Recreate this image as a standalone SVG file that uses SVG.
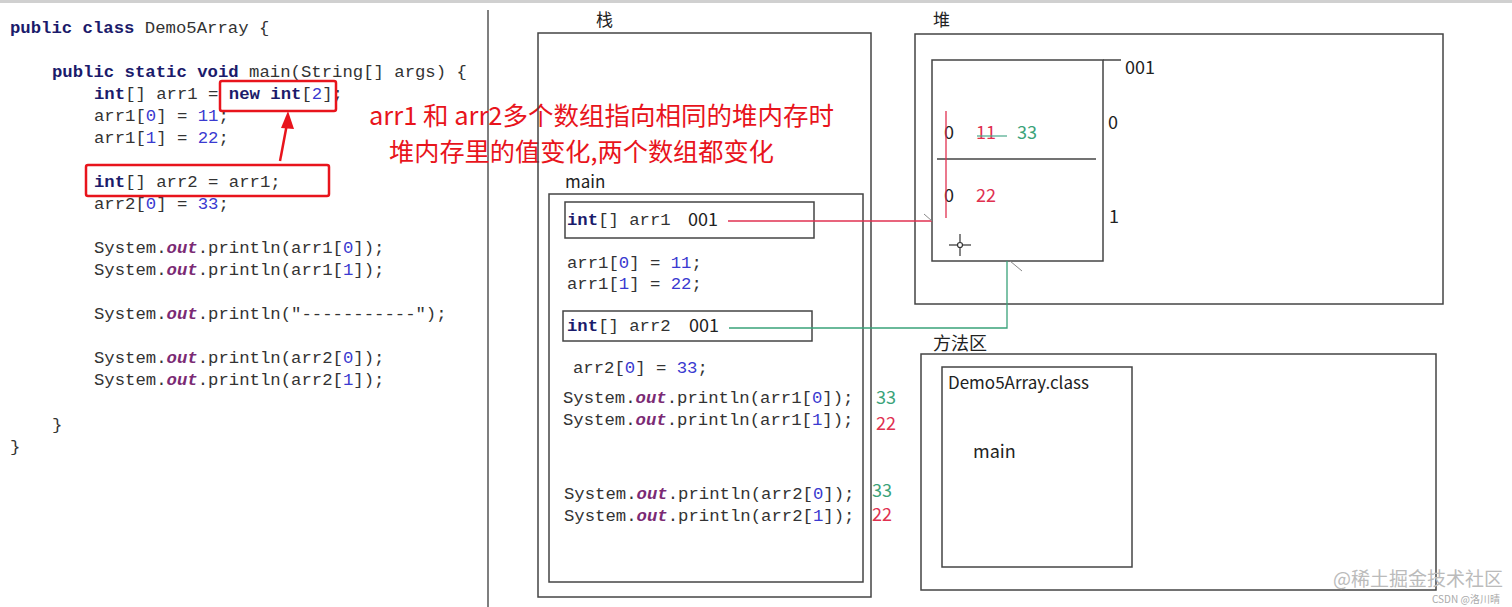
<svg xmlns="http://www.w3.org/2000/svg" width="1512" height="607" viewBox="0 0 1512 607">
<style>
.code{font-family:"Liberation Mono",monospace;font-size:17.3px;fill:#333}
.kw{font-weight:bold;fill:#1b1b6b}
.num{fill:#3a3ad0}
.out{font-style:italic;font-weight:bold;fill:#7b2a74}
.sans{font-family:"Noto Sans CJK SC","Noto Sans",sans-serif;fill:#222}
.box{fill:none;stroke:#444;stroke-width:1.5}
.redbox{fill:none;stroke:#e8141c;stroke-width:2.5}
.note{font-family:"Noto Sans CJK SC",sans-serif;fill:#e8141c}
.green{fill:#3aa37a}
.red{fill:#e03050}
</style>
<rect x="0" y="0" width="1512" height="607" fill="#ffffff"/>
<rect x="0" y="0" width="1512" height="3" fill="#d0d0d0"/>
<line x1="488" y1="10" x2="488" y2="607" stroke="#555" stroke-width="1.5"/>

<g id="source-code">
<text class="code" x="10" y="33"><tspan class="kw">public</tspan> <tspan class="kw">class</tspan> Demo5Array {</text>
<text class="code" x="52" y="77"><tspan class="kw">public</tspan> <tspan class="kw">static</tspan> <tspan class="kw">void</tspan> main(String[] args) {</text>
<text class="code" x="94" y="99"><tspan class="kw">int</tspan>[] arr1 = <tspan class="kw">new</tspan> <tspan class="kw">int</tspan>[<tspan class="num">2</tspan>];</text>
<text class="code" x="94" y="121">arr1[<tspan class="num">0</tspan>] = <tspan class="num">11</tspan>;</text>
<text class="code" x="94" y="143">arr1[<tspan class="num">1</tspan>] = <tspan class="num">22</tspan>;</text>
<text class="code" x="94" y="187"><tspan class="kw">int</tspan>[] arr2 = arr1;</text>
<text class="code" x="94" y="209">arr2[<tspan class="num">0</tspan>] = <tspan class="num">33</tspan>;</text>
<text class="code" x="94" y="253">System.<tspan class="out">out</tspan>.println(arr1[<tspan class="num">0</tspan>]);</text>
<text class="code" x="94" y="275">System.<tspan class="out">out</tspan>.println(arr1[<tspan class="num">1</tspan>]);</text>
<text class="code" x="94" y="319">System.<tspan class="out">out</tspan>.println("-----------");</text>
<text class="code" x="94" y="363">System.<tspan class="out">out</tspan>.println(arr2[<tspan class="num">0</tspan>]);</text>
<text class="code" x="94" y="385">System.<tspan class="out">out</tspan>.println(arr2[<tspan class="num">1</tspan>]);</text>
<text class="code" x="52" y="430">}</text>
<text class="code" x="10" y="452">}</text>
</g>

<g id="highlight-new">
<rect class="redbox" x="220" y="81" width="116" height="30" rx="2"/>
</g>
<g id="highlight-arr2">
<rect class="redbox" x="86" y="165" width="243" height="31" rx="2"/>
</g>

<g id="annotation">
<text class="note" x="369" y="125" font-size="25.5">arr1 和 arr2多个数组指向相同的堆内存时</text>
<text class="note" x="389" y="161" font-size="25.2">堆内存里的值变化,两个数组都变化</text>
</g>

<g id="stack">
<text class="sans" x="596" y="26" font-size="17">栈</text>
<rect class="box" x="538" y="33" width="333" height="564"/>
</g>

<g id="main-frame">
<text class="sans" x="565" y="188" font-size="17">main</text>
<rect class="box" x="549" y="194" width="314" height="388"/>
<text class="code" x="567" y="268">arr1[<tspan class="num">0</tspan>] = <tspan class="num">11</tspan>;</text>
<text class="code" x="567" y="289">arr1[<tspan class="num">1</tspan>] = <tspan class="num">22</tspan>;</text>
<text class="code" x="573" y="373">arr2[<tspan class="num">0</tspan>] = <tspan class="num">33</tspan>;</text>
<text class="code" x="563" y="403">System.<tspan class="out">out</tspan>.println(arr1[<tspan class="num">0</tspan>]);</text>
<text class="code" x="563" y="425">System.<tspan class="out">out</tspan>.println(arr1[<tspan class="num">1</tspan>]);</text>
<text class="code" x="564" y="499">System.<tspan class="out">out</tspan>.println(arr2[<tspan class="num">0</tspan>]);</text>
<text class="code" x="564" y="521">System.<tspan class="out">out</tspan>.println(arr2[<tspan class="num">1</tspan>]);</text>
<text class="sans green" x="876" y="404" font-size="18">33</text>
<text class="sans red" x="876" y="430" font-size="18">22</text>
<text class="sans green" x="872" y="497" font-size="18">33</text>
<text class="sans red" x="872" y="521" font-size="18">22</text>
</g>

<g id="var-arr1">
<rect class="box" x="565" y="202" width="249" height="36"/>
<text class="code" x="567" y="225"><tspan class="kw">int</tspan>[] arr1</text>
<text class="sans" x="688" y="226" font-size="18">001</text>
</g>

<g id="var-arr2">
<rect class="box" x="563" y="311" width="249" height="30"/>
<text class="code" x="567" y="331"><tspan class="kw">int</tspan>[] arr2</text>
<text class="sans" x="689" y="332" font-size="18">001</text>
</g>

<g id="heap">
<text class="sans" x="933" y="26" font-size="17">堆</text>
<rect class="box" x="915" y="34" width="528" height="270"/>
</g>

<g id="heap-array-001">
<rect class="box" x="932" y="60" width="171" height="201"/>
<line x1="1103" y1="60" x2="1121" y2="60" stroke="#444" stroke-width="1.5"/>
<text class="sans" x="1125" y="74" font-size="18">001</text>
<line x1="937" y1="159" x2="1096" y2="159" stroke="#444" stroke-width="1.3"/>
<text class="sans" x="944" y="139" font-size="18">0</text>
<text class="sans red" x="976" y="139" font-size="18">11</text>
<line x1="977" y1="136" x2="1007" y2="136" stroke="#4aa88a" stroke-width="1.2"/>
<text class="sans green" x="1017" y="139" font-size="18">33</text>
<text class="sans" x="944" y="202" font-size="18">0</text>
<text class="sans red" x="976" y="202" font-size="18">22</text>
<line x1="946" y1="111" x2="946" y2="218" stroke="#e03050" stroke-width="1.3"/>
<text class="sans" x="1108" y="129" font-size="18">0</text>
<text class="sans" x="1109" y="223" font-size="18">1</text>
<g stroke="#333" stroke-width="1.2" fill="none">
<line x1="949" y1="245" x2="971" y2="245"/>
<line x1="960" y1="234" x2="960" y2="256"/>
<circle cx="960" cy="245" r="2.5" fill="#fff"/>
</g>
</g>

<g id="method-area">
<text class="sans" x="933" y="350" font-size="18">方法区</text>
<rect class="box" x="921" y="354" width="515" height="236"/>
</g>

<g id="class-demo5array">
<rect class="box" x="942" y="367" width="190" height="200"/>
<text class="sans" x="948" y="389" font-size="17">Demo5Array.class</text>
<text class="sans" x="973" y="458" font-size="18">main</text>
</g>

<g id="connectors">
<polyline points="728,221 932,221" fill="none" stroke="#e03050" stroke-width="1.3"/>
<line x1="924" y1="214" x2="932" y2="221" stroke="#888" stroke-width="1"/>
<polyline points="729,328 1007,328 1007,261" fill="none" stroke="#3aa37a" stroke-width="1.3"/>
<line x1="1010" y1="261" x2="1022" y2="271" stroke="#888" stroke-width="1"/>
<line x1="280" y1="161" x2="287" y2="124" stroke="#e8141c" stroke-width="2.5"/>
<polygon points="288,111 281,128 294,129" fill="#e8141c"/>
</g>

<g id="watermark">
<text x="1333" y="586" font-family="Noto Sans CJK SC,sans-serif" font-size="19" fill="#bbbbbb">@稀土掘金技术社区</text>
<text x="1432" y="603" font-family="Noto Sans CJK SC,sans-serif" font-size="10" fill="#aaaaaa">CSDN @洛川晴</text>
</g>
</svg>
